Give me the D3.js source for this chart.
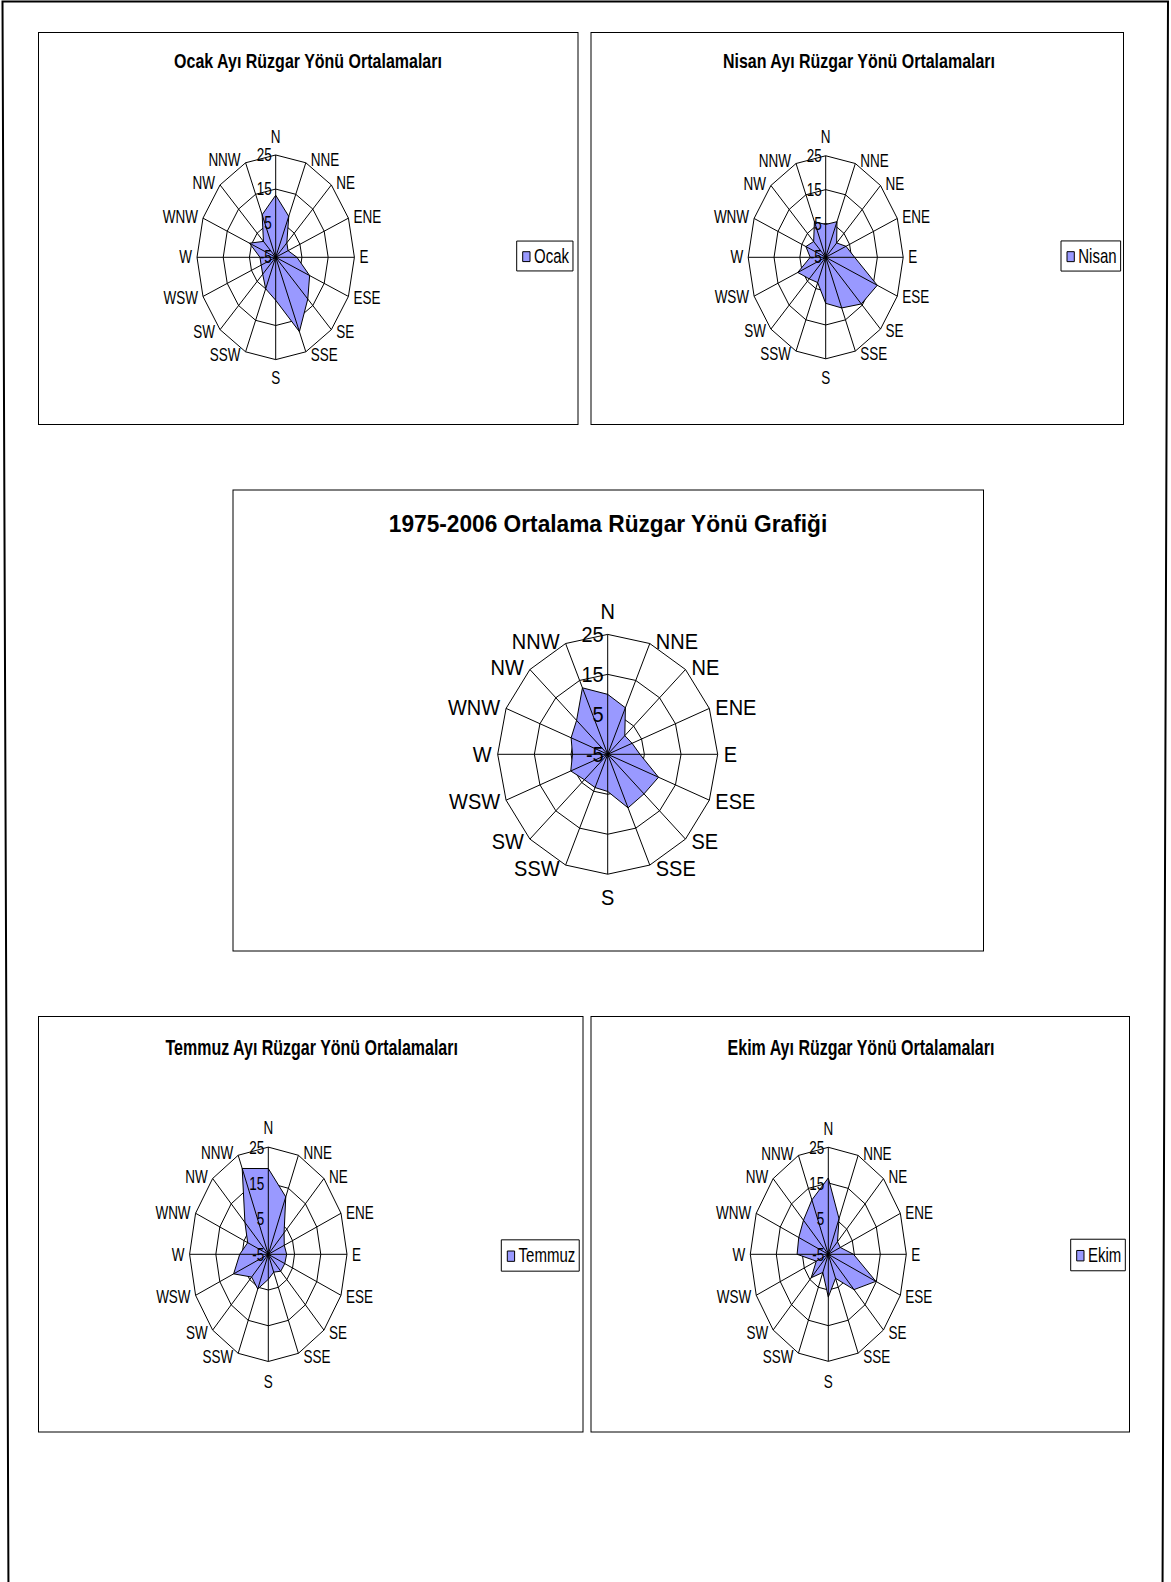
<!DOCTYPE html>
<html>
<head>
<meta charset="utf-8">
<script src="https://cdn.jsdelivr.net/npm/d3@7"></script>
<style>
  body { margin: 0; background: #fff; }
  svg text { font-family: "Liberation Sans", Arial, sans-serif; fill: #000; }
</style>
</head>
<body>
<svg id="page" width="1171" height="1582"></svg>
<script>

// wind direction frequencies (%)
let directions = ["N","NNE","NE","ENE","E","ESE","SE","SSE","S","SSW","SW","WSW","W","WNW","NW","NNW"]
let ocak     = [13.2, 8.0, 1.0, 0.1, 3.1, 9.0, 12.3, 18.6, 7.6, 5.0, 2.0, 1.0, 1.0, 5.8, 1.6, 8.5]
let nisan    = [4.7, 6.4, 1.0, 3.5, 6.2, 16.6, 14.5, 11.2, 8.6, 3.1, 4.0, 6.7, 1.0, 3.3, 1.6, 6.4]
let ortalama = [10.0, 7.6, 1.6, 2.2, 3.8, 10.0, 9.0, 9.5, 4.3, 4.0, 4.0, 5.9, 4.6, 5.8, 7.0, 13.0]
let temmuz   = [19.0, 12.4, 3.5, 1.6, 2.0, 1.8, 1.7, 0.4, 2.0, 5.5, 4.0, 9.3, 5.9, 3.5, 7.6, 21.0]
let ekim     = [16.4, 5.8, 0.0, 0.0, 4.7, 14.8, 9.0, 2.3, 7.0, 0.5, 4.3, 0.0, 7.0, 7.3, 8.5, 11.5]
let axisTicks = [-5, 5, 15, 25]

let svg = d3.select("#page")

// frame of the scanned page (a bit skewed)
svg.append("path")
    .attr("d", "M2.5,1.5 L1168,1.5 L1162.5,1600 L8.5,1600 Z")
    .attr("fill", "none")
    .attr("stroke", "#000")
    .attr("stroke-width", 2)

let charts = [
    {title: "Ocak Ayı Rüzgar Yönü Ortalamaları", name: "Ocak", values: ocak,
     box: [38.5, 32.5, 578, 424.5], cx: 275.7, cy: 257.3, r: 78.7, sy: 1.30,
     fs: 13.5, tfs: 16, tx: 308, ty: 68.3, lx: 516.7, ly: 256, gap: 5},
    {title: "Nisan Ayı Rüzgar Yönü Ortalamaları", name: "Nisan", values: nisan,
     box: [591, 32.5, 1123.5, 424.5], cx: 825.7, cy: 257.3, r: 77.5, sy: 1.31,
     fs: 13.5, tfs: 16, tx: 859, ty: 68.3, lx: 1061, ly: 256, gap: 5},
    {title: "1975-2006 Ortalama Rüzgar Yönü Grafiği", name: null, values: ortalama,
     box: [233, 490, 983.5, 951], cx: 607.7, cy: 754.3, r: 110, sy: 1.09,
     fs: 20, tfs: 22.7, tx: 608, ty: 531.7, gap: 6},
    {title: "Temmuz Ayı Rüzgar Yönü Ortalamaları", name: "Temmuz", values: temmuz,
     box: [38.5, 1016.5, 583, 1432], cx: 268.3, cy: 1254.3, r: 78.7, sy: 1.362,
     fs: 13.5, tfs: 16, tx: 311.7, ty: 1055, lx: 501.3, ly: 1255.5, gap: 5},
    {title: "Ekim Ayı Rüzgar Yönü Ortalamaları", name: "Ekim", values: ekim,
     box: [591, 1016.5, 1129.5, 1432], cx: 828.3, cy: 1254.3, r: 78, sy: 1.372,
     fs: 13.5, tfs: 16, tx: 861, ty: 1055, lx: 1070.7, ly: 1255, gap: 5}
]

function drawRadar(c) {
    svg.append("rect")
        .attr("x", c.box[0])
        .attr("y", c.box[1])
        .attr("width", c.box[2] - c.box[0])
        .attr("height", c.box[3] - c.box[1])
        .attr("fill", "none")
        .attr("stroke", "#000")
        .attr("stroke-width", 1)

    svg.append("text")
        .attr("transform", `translate(${c.tx},${c.ty}) scale(1,${c.sy})`)
        .attr("text-anchor", "middle")
        .style("font-weight", "bold")
        .style("font-size", c.tfs + "px")
        .text(c.title)

    // the scan is stretched vertically, so every chart is drawn squashed and scaled back
    let g = svg.append("g")
        .attr("transform", `translate(${c.cx},${c.cy}) scale(1,${c.sy})`)

    let r = d3.scaleLinear().domain([-5, 25]).range([0, c.r])
    let angle = d3.scaleLinear().domain([0, directions.length]).range([0, 2 * Math.PI])

    let radial = d3.lineRadial()
        .angle((d, i) => angle(i))
        .radius(d => r(d))
        .curve(d3.curveLinearClosed)

    g.selectAll(".ring")
        .data(axisTicks.slice(1))
        .join("path")
        .attr("class", "ring")
        .attr("d", t => radial(directions.map(() => t)))
        .attr("fill", "none")
        .attr("stroke", "#000")
        .attr("stroke-width", 1)
        .attr("vector-effect", "non-scaling-stroke")

    g.append("path")
        .attr("d", radial(c.values))
        .attr("fill", "#9999ff")
        .attr("stroke", "#000")
        .attr("stroke-width", 1)
        .attr("vector-effect", "non-scaling-stroke")

    let outer = r(25)
    g.selectAll(".spoke")
        .data(directions)
        .join("line")
        .attr("class", "spoke")
        .attr("x1", 0).attr("y1", 0)
        .attr("x2", (d, i) => outer * Math.sin(angle(i)))
        .attr("y2", (d, i) => -outer * Math.cos(angle(i)))
        .attr("stroke", "#000")
        .attr("stroke-width", 1)
        .attr("vector-effect", "non-scaling-stroke")

    // direction labels outside the outer ring
    g.selectAll(".dir")
        .data(directions)
        .join("text")
        .attr("class", "dir")
        .style("font-size", c.fs + "px")
        .attr("dominant-baseline", "central")
        .attr("text-anchor", (d, i) => {
            let s = Math.sin(angle(i))
            return Math.abs(s) < 0.01 ? "middle" : (s > 0 ? "start" : "end")
        })
        .attr("x", (d, i) => {
            let s = Math.sin(angle(i))
            let ex = outer * s
            return Math.abs(s) < 0.01 ? 0 : ex + (s > 0 ? c.gap : -c.gap)
        })
        .attr("y", (d, i) => {
            let s = Math.sin(angle(i)), co = Math.cos(angle(i))
            let ey = -outer * co
            if (Math.abs(s) < 0.01) return ey - co * c.fs * 1.06
            return ey - co * 3 / c.sy
        })
        .text(d => d)

    // value axis labels along the N spoke
    g.selectAll(".tick")
        .data(axisTicks)
        .join("text")
        .attr("class", "tick")
        .style("font-size", c.fs + "px")
        .attr("text-anchor", "end")
        .attr("dominant-baseline", "central")
        .attr("x", -4)
        .attr("y", d => -r(d))
        .text(d => d)

    if (c.name) {
        let lg = svg.append("g")
            .attr("transform", `translate(${c.lx},${c.ly}) scale(1,${c.sy})`)
        let h = 23
        let box = lg.append("rect")
            .attr("x", 0).attr("y", -h / 2)
            .attr("height", h)
            .attr("fill", "#fff")
            .attr("stroke", "#000")
            .attr("stroke-width", 1)
            .attr("vector-effect", "non-scaling-stroke")
        lg.append("rect")
            .attr("x", 6).attr("y", -3.3)
            .attr("width", 7.3).attr("height", 7.6)
            .attr("fill", "#9999ff")
            .attr("stroke", "#000")
            .attr("stroke-width", 1)
            .attr("vector-effect", "non-scaling-stroke")
        let label = lg.append("text")
            .attr("x", 17.3).attr("y", 0)
            .attr("dominant-baseline", "central")
            .style("font-size", "15px")
            .text(c.name)
        box.attr("width", 17.3 + label.node().getComputedTextLength() + 4)
    }
}

charts.forEach(drawRadar)

</script>
</body>
</html>
